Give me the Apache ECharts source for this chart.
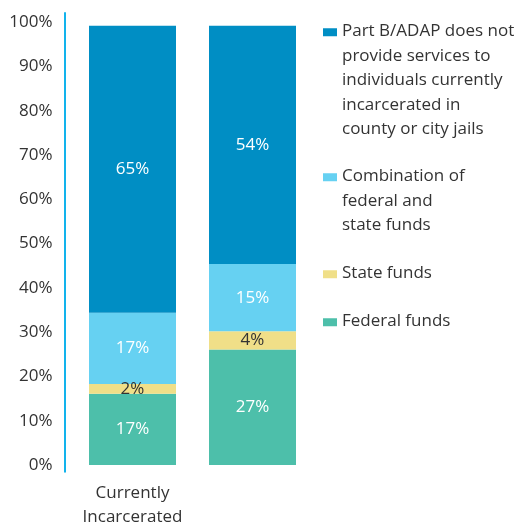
<!DOCTYPE html>
<html>
<head>
<meta charset="utf-8">
<script src="https://cdn.jsdelivr.net/npm/echarts@6/dist/echarts.min.js"></script>
<style>
  html, body { margin: 0; padding: 0; background: #fff; }
  #chart { width: 517px; height: 529px; }
</style>
</head>
<body>
<div id="chart"></div>
<script>
// categories and data (share of bar height)
var categories = ['Currently\nIncarcerated', 'Recently\nIncarcerated'];

var federalFunds = [16.1, 26.1];
var stateFunds = [2.2, 4.1];
var combinedFunds = [16.1, 15.2];
var noServices = [64.8, 53.8];

// printed labels
var federalLabels = ['17%', '27%'];
var stateLabels = ['2%', '4%'];
var combinedLabels = ['17%', '15%'];
var noServicesLabels = ['65%', '54%'];

var seriesNames = [
  'Federal funds',
  'State funds',
  'Combination of federal and state funds',
  'Part B/ADAP does not provide services to individuals currently incarcerated in county or city jails'
];
var legendLines = [
  ['Federal funds'],
  ['State funds'],
  ['Combination of', 'federal and', 'state funds'],
  ['Part B/ADAP does not', 'provide services to', 'individuals currently', 'incarcerated in', 'county or city jails']
];

var FONT = 'Open Sans';
var TEXT = '#333333';
var LINE_H = 24.5;

var chart = echarts.init(document.getElementById('chart'));

function makeSeries(name, values, labels, color, labelColor) {
  return {
    name: name,
    type: 'bar',
    stack: 'total',
    barWidth: 87,
    data: values,
    itemStyle: { color: color },
    label: {
      show: true,
      position: 'inside',
      color: labelColor,
      fontFamily: FONT,
      fontSize: 17,
      formatter: function (p) { return labels[p.dataIndex]; }
    }
  };
}

// one legend per item so every icon sits beside the first line of its text
function makeLegend(idx, top) {
  var n = legendLines[idx].length;
  var h = n * LINE_H;
  var y1 = LINE_H / 2 - 3, y2 = LINE_H / 2 + 5;
  return {
    data: [seriesNames[idx]],
    left: 323,
    top: top,
    padding: 0,
    orient: 'vertical',
    itemWidth: 14,
    itemHeight: h,
    itemGap: 0,
    icon: 'path://M0,0M0,' + h + 'M0,' + y1 + 'L14,' + y1 + 'L14,' + y2 + 'L0,' + y2 + 'Z',
    formatter: function () { return legendLines[idx].join('\n'); },
    textStyle: { fontFamily: FONT, fontSize: 17, color: TEXT, lineHeight: LINE_H }
  };
}

var option = {
  animation: false,
  textStyle: { fontFamily: FONT },
  legend: [
    makeLegend(3, 19),
    makeLegend(2, 164),
    makeLegend(1, 261),
    makeLegend(0, 309)
  ],
  grid: [
    { left: 72.5, width: 240, top: 22.3, bottom: 60.5 },
    { left: 65, width: 10, top: 13, bottom: 57.3 }
  ],
  xAxis: [
    {
      type: 'category',
      data: categories,
      gridIndex: 0,
      axisLine: { show: false },
      axisTick: { show: false },
      axisLabel: { margin: 16, fontFamily: FONT, fontSize: 17, color: TEXT, lineHeight: 24 }
    },
    { type: 'value', gridIndex: 1, show: false }
  ],
  yAxis: [
    {
      type: 'value',
      gridIndex: 0,
      min: 0,
      max: 100,
      interval: 10,
      axisLine: { show: false },
      axisTick: { show: false },
      splitLine: { show: false },
      axisLabel: { formatter: '{value}%', margin: 20, fontFamily: FONT, fontSize: 17, color: TEXT }
    },
    {
      type: 'value',
      gridIndex: 1,
      min: 0,
      max: 1,
      axisLine: { show: true, lineStyle: { color: '#12B3EC', width: 2 } },
      axisTick: { show: false },
      axisLabel: { show: false },
      splitLine: { show: false }
    }
  ],
  series: [
    makeSeries(seriesNames[0], federalFunds, federalLabels, '#4DBFAA', '#ffffff'),
    makeSeries(seriesNames[1], stateFunds, stateLabels, '#F0DF88', TEXT),
    makeSeries(seriesNames[2], combinedFunds, combinedLabels, '#66D1F2', '#ffffff'),
    makeSeries(seriesNames[3], noServices, noServicesLabels, '#008EC4', '#ffffff')
  ]
};

chart.setOption(option);
</script>
</body>
</html>
